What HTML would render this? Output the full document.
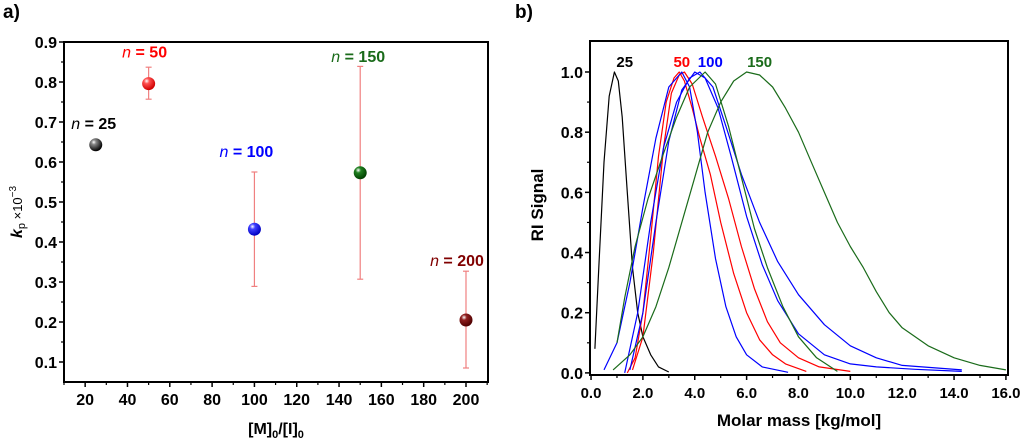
<!DOCTYPE html>
<html><head><meta charset="utf-8"><style>
html,body{margin:0;padding:0;background:#fff;width:1024px;height:443px;overflow:hidden}
svg{display:block;font-family:"Liberation Sans",Arial,sans-serif}
</style></head><body>
<svg id="fig" width="1024" height="443" viewBox="0 0 1024 443">
<defs>
<radialGradient id="gk" cx="35%" cy="30%" r="70%"><stop offset="0" stop-color="#fff"/><stop offset="0.25" stop-color="#888"/><stop offset="1" stop-color="#000"/></radialGradient>
<radialGradient id="gr" cx="35%" cy="30%" r="70%"><stop offset="0" stop-color="#fff"/><stop offset="0.3" stop-color="#ff5050"/><stop offset="1" stop-color="#d00000"/></radialGradient>
<radialGradient id="gb" cx="35%" cy="30%" r="70%"><stop offset="0" stop-color="#fff"/><stop offset="0.3" stop-color="#4040ff"/><stop offset="1" stop-color="#0000c0"/></radialGradient>
<radialGradient id="gg" cx="35%" cy="30%" r="70%"><stop offset="0" stop-color="#fff"/><stop offset="0.3" stop-color="#208020"/><stop offset="1" stop-color="#004000"/></radialGradient>
<radialGradient id="gm" cx="35%" cy="30%" r="70%"><stop offset="0" stop-color="#fff"/><stop offset="0.3" stop-color="#902020"/><stop offset="1" stop-color="#500000"/></radialGradient>
</defs>
<text x="3" y="18" font-size="19" font-weight="bold">a)</text>
<text x="515" y="18" font-size="19" font-weight="bold">b)</text>
<g id="left"></g><g id="right"></g>
</svg>
<script>
// ---- Left chart data ----
const ratios = [25, 50, 100, 150, 200];
const kpValues = [0.643, 0.796, 0.432, 0.573, 0.205];
const errLow = [0.630, 0.757, 0.289, 0.307, 0.085];
const errHigh = [0.656, 0.837, 0.575, 0.839, 0.327];
const nLabels = ["25", "50", "100", "150", "200"];
const leftXTicks = [20, 40, 60, 80, 100, 120, 140, 160, 180, 200];
const leftYTicks = [0.1, 0.2, 0.3, 0.4, 0.5, 0.6, 0.7, 0.8, 0.9];

// ---- Right chart data ----
const rightXTicks = [0, 2, 4, 6, 8, 10, 12, 14, 16];
const rightYTicks = [0, 0.2, 0.4, 0.6, 0.8, 1.0];
const curveNames = ["n25", "n50-a", "n50-b", "n100-a", "n100-b", "n100-c", "n150-a", "n150-b"];
const curveColors = ["#000", "#ff0000", "#ff0000", "#0000ff", "#0000ff", "#0000ff", "#1a6b1a", "#1a6b1a"];
const c25 = [[0.15,0.08],[0.3,0.35],[0.5,0.7],[0.7,0.92],[0.9,1.0],[1.05,0.97],[1.2,0.85],[1.4,0.6],[1.6,0.35],[1.8,0.2],[2.0,0.12],[2.3,0.06],[2.6,0.02],[3.0,0.003]];
const c50a = [[1.4,0.0],[1.7,0.05],[2.0,0.2],[2.3,0.45],[2.6,0.72],[2.9,0.9],[3.2,0.98],[3.4,1.0],[3.6,0.97],[3.9,0.88],[4.2,0.78],[4.6,0.66],[5.0,0.5],[5.5,0.33],[6.0,0.2],[6.5,0.11],[7.0,0.06],[7.5,0.03],[8.3,0.005]];
const c50b = [[1.6,0.01],[2.0,0.12],[2.4,0.4],[2.8,0.75],[3.1,0.93],[3.4,0.99],[3.6,1.0],[3.9,0.96],[4.3,0.85],[4.8,0.72],[5.3,0.58],[5.8,0.42],[6.3,0.28],[6.8,0.17],[7.3,0.1],[8.0,0.05],[8.8,0.02],[10.0,0.005]];
const c100a = [[0.5,0.01],[1.0,0.1],[1.5,0.3],[2.0,0.55],[2.5,0.78],[3.0,0.95],[3.5,1.0],[3.8,0.95],[4.1,0.8],[4.4,0.6],[4.8,0.38],[5.2,0.22],[5.6,0.12],[6.0,0.06],[6.6,0.02],[7.6,0.002]];
const c100b = [[1.5,0.01],[2.0,0.2],[2.5,0.5],[3.0,0.77],[3.5,0.94],[4.0,1.0],[4.4,0.98],[4.9,0.88],[5.4,0.72],[6.0,0.52],[6.6,0.36],[7.2,0.24],[8.0,0.13],[9.0,0.06],[10.0,0.03],[11.0,0.02],[12.5,0.012],[14.3,0.005]];
const c100c = [[1.3,0.0],[1.8,0.2],[2.3,0.5],[2.8,0.75],[3.3,0.9],[3.8,0.98],[4.2,1.0],[4.7,0.95],[5.2,0.82],[5.8,0.66],[6.5,0.5],[7.2,0.37],[8.0,0.26],[9.0,0.16],[10.0,0.09],[11.0,0.05],[12.0,0.025],[14.3,0.01]];
const c150a = [[1.0,0.1],[1.3,0.25],[1.7,0.42],[2.2,0.58],[2.8,0.73],[3.3,0.85],[3.8,0.95],[4.4,1.0],[4.8,0.96],[5.3,0.82],[5.8,0.65],[6.3,0.48],[6.8,0.35],[7.4,0.22],[8.0,0.12],[8.7,0.05],[9.5,0.005]];
const c150b = [[0.85,0.01],[1.5,0.06],[2.0,0.12],[2.5,0.22],[3.0,0.35],[3.5,0.5],[4.0,0.65],[4.5,0.8],[5.0,0.9],[5.5,0.97],[6.0,1.0],[6.5,0.99],[7.0,0.95],[7.5,0.88],[8.0,0.8],[8.5,0.7],[9.0,0.6],[9.5,0.5],[10.0,0.42],[10.5,0.35],[11.0,0.27],[11.5,0.2],[12.0,0.15],[13.0,0.09],[14.0,0.05],[15.0,0.025],[16.0,0.01]];
const curves = [c25, c50a, c50b, c100a, c100b, c100c, c150a, c150b];
const peakLabels = ["25", "50", "100", "150"];
const peakLabelX = [1.3, 3.5, 4.6, 6.5];
const peakLabelColors = ["#000", "#ff0000", "#0000ff", "#1a6b1a"];

const NS = "http://www.w3.org/2000/svg";
function mk(parent, tag, attrs, text) {
  const e = document.createElementNS(NS, tag);
  for (const k in attrs) e.setAttribute(k, attrs[k]);
  if (text !== undefined) e.textContent = text;
  parent.appendChild(e);
  return e;
}

// ---- Left chart ----
(function(){
  const g = document.getElementById('left');
  const X0 = 64, X1 = 488, Y0 = 42, Y1 = 382;
  const xmin = 10, xmax = 210.4, ymin = 0.05, ymax = 0.9;
  const sx = v => X0 + (v - xmin) / (xmax - xmin) * (X1 - X0);
  const sy = v => Y1 - (v - ymin) / (ymax - ymin) * (Y1 - Y0);
  let f = mk(g, 'rect', {x:X0, y:Y0, width:X1-X0, height:Y1-Y0, fill:'none', stroke:'#000', 'stroke-width':2});
   
  leftXTicks.forEach(t => {
    const x = sx(t);
    mk(g, 'line', {x1:x, x2:x, y1:Y1, y2:Y1+5, stroke:'#000', 'stroke-width':1.5});
    mk(g, 'line', {x1:x+sx(10)-sx(0), x2:x+sx(10)-sx(0), y1:Y1, y2:Y1+3, stroke:'#000', 'stroke-width':1.2});
    const l = mk(g, 'text', {x:x, y:Y1+23, 'font-size':16, 'font-weight':'bold', 'text-anchor':'middle'}, String(t));
     
  });
  mk(g, 'line', {x1:sx(10), x2:sx(10), y1:Y1, y2:Y1+3, stroke:'#000', 'stroke-width':1.2});
  leftYTicks.forEach(t => {
    const y = sy(t);
    mk(g, 'line', {x1:X0-5, x2:X0, y1:y, y2:y, stroke:'#000', 'stroke-width':1.5});
    if (t < 0.85) mk(g, 'line', {x1:X0-3, x2:X0, y1:sy(t+0.05), y2:sy(t+0.05), stroke:'#000', 'stroke-width':1.2});
    const l = mk(g, 'text', {x:X0-7, y:y+6, 'font-size':16, 'font-weight':'bold', 'text-anchor':'end'}, t.toFixed(1));
     
  });
  let xt = mk(g, 'text', {x:(X0+X1)/2, y:434, 'font-size':16, 'font-weight':'bold', 'text-anchor':'middle'});
  xt.innerHTML = '[M]<tspan font-size="11" dy="4">0</tspan><tspan dy="-4">/[I]</tspan><tspan font-size="11" dy="4">0</tspan>';
   
  let yt = mk(g, 'text', {transform:'translate(22,212) rotate(-90)', 'font-size':16, 'text-anchor':'middle'});
  yt.innerHTML = '<tspan font-style="italic" font-weight="bold">k</tspan><tspan font-size="11" dy="3">p</tspan><tspan dy="-3" font-size="13"> ×10</tspan><tspan font-size="10" dy="-6">−3</tspan>';
   
  const grads = ['gk','gr','gb','gg','gm'];
  const labCols = ['#000','#ff0000','#0000ff','#1a6b1a','#800000'];
  const labOff = [[-2,-16],[-4,-26],[-8,-72],[-2,-111],[-9,-54]];
  ratios.forEach((r, i) => {
    const x = sx(r), v = kpValues[i];
    const eb = mk(g, 'g', {stroke:'#f08080', 'stroke-width':1.2});
     
    mk(eb, 'line', {x1:x, x2:x, y1:sy(errLow[i]), y2:sy(errHigh[i])});
    mk(eb, 'line', {x1:x-3, x2:x+3, y1:sy(errLow[i]), y2:sy(errLow[i])});
    mk(eb, 'line', {x1:x-3, x2:x+3, y1:sy(errHigh[i]), y2:sy(errHigh[i])});
    const c = mk(g, 'circle', {cx:x, cy:sy(v), r:6.5, fill:'url(#'+grads[i]+')'});
     
    const lab = mk(g, 'text', {x:x+labOff[i][0], y:sy(v)+labOff[i][1], 'font-size':16, 'font-weight':'bold', fill:labCols[i], 'text-anchor':'middle'});
    lab.innerHTML = '<tspan font-style="italic" font-weight="normal">n</tspan> = ' + nLabels[i];
     
  });
})();

// ---- Right chart ----
(function(){
  const g = document.getElementById('right');
  const X0 = 590, X1 = 1008, Y0 = 41, Y1 = 375;
  const xmin = -0.04, xmax = 16.08, ymin = -0.007, ymax = 1.103;
  const sx = v => X0 + (v - xmin) / (xmax - xmin) * (X1 - X0);
  const sy = v => Y1 - (v - ymin) / (ymax - ymin) * (Y1 - Y0);
  curves.forEach((c, i) => {
    const d = c.map((p, j) => (j ? 'L' : 'M') + sx(p[0]).toFixed(1) + ' ' + sy(p[1]).toFixed(1)).join(' ');
    const p = mk(g, 'path', {d:d, fill:'none', stroke:curveColors[i], 'stroke-width':1.2, 'stroke-linejoin':'round'});
     
  });
  let f = mk(g, 'rect', {x:X0, y:Y0, width:X1-X0, height:Y1-Y0, fill:'none', stroke:'#000', 'stroke-width':2});
   
  rightXTicks.forEach(t => {
    const x = sx(t);
    mk(g, 'line', {x1:x, x2:x, y1:Y1, y2:Y1+5, stroke:'#000', 'stroke-width':1.5});
    if (t < 16) mk(g, 'line', {x1:sx(t+1), x2:sx(t+1), y1:Y1, y2:Y1+3, stroke:'#000', 'stroke-width':1.2});
    const l = mk(g, 'text', {x:x, y:Y1+23, 'font-size':15, 'font-weight':'bold', 'text-anchor':'middle'}, t.toFixed(1));
     
  });
  rightYTicks.forEach(t => {
    const y = sy(t);
    mk(g, 'line', {x1:X0-5, x2:X0, y1:y, y2:y, stroke:'#000', 'stroke-width':1.5});
    if (t < 1) mk(g, 'line', {x1:X0-3, x2:X0, y1:sy(t+0.1), y2:sy(t+0.1), stroke:'#000', 'stroke-width':1.2});
    const l = mk(g, 'text', {x:X0-7, y:y+6, 'font-size':16, 'font-weight':'bold', 'text-anchor':'end'}, t.toFixed(1));
     
  });
  let xt = mk(g, 'text', {x:(X0+X1)/2, y:426, 'font-size':17, 'font-weight':'bold', 'text-anchor':'middle'}, 'Molar mass [kg/mol]');
   
  let yt = mk(g, 'text', {transform:'translate(543,205) rotate(-90)', 'font-size':17, 'font-weight':'bold', 'text-anchor':'middle'}, 'RI Signal');
   
  peakLabels.forEach((s, i) => {
    const l = mk(g, 'text', {x:sx(peakLabelX[i]), y:67, 'font-size':15, 'font-weight':'bold', fill:peakLabelColors[i], 'text-anchor':'middle'}, s);
     
  });
})();
</script>
</body></html>
